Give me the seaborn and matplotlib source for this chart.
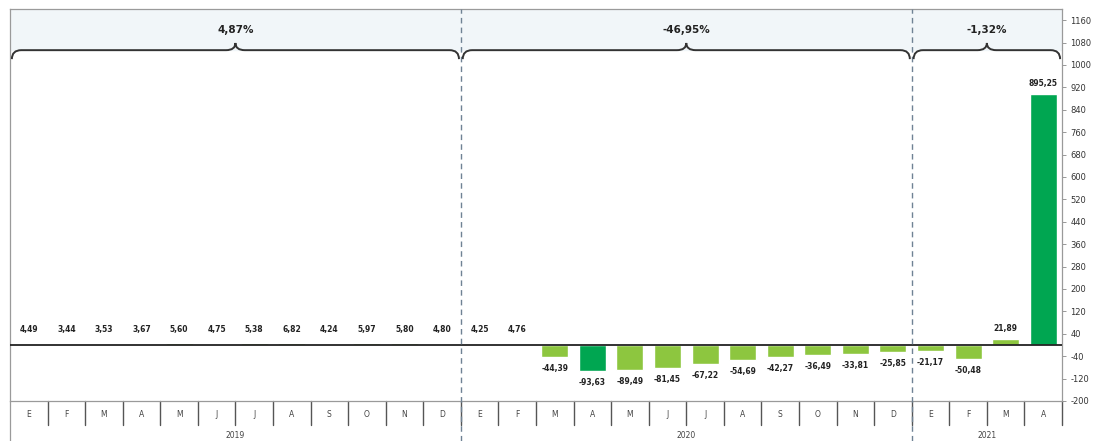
import numpy as np
import pandas as pd
import matplotlib
matplotlib.use("Agg")
import matplotlib.pyplot as plt
import matplotlib.transforms as mtransforms
from matplotlib.path import Path
from matplotlib.patches import PathPatch
import seaborn as sns

# -------------------------------------------
# data
# -------------------------------------------
months = ['E', 'F', 'M', 'A', 'M', 'J', 'J', 'A', 'S', 'O', 'N', 'D',
          'E', 'F', 'M', 'A', 'M', 'J', 'J', 'A', 'S', 'O', 'N', 'D',
          'E', 'F', 'M', 'A']
years = ['2019', '2020', '2021']
year_sizes = [12, 12, 4]
year_change = ['4,87%', '-46,95%', '-1,32%']
values = [4.49, 3.44, 3.53, 3.67, 5.60, 4.75, 5.38, 6.82, 4.24, 5.97, 5.80, 4.80,
          4.25, 4.76, -44.39, -93.63, -89.49, -81.45, -67.22, -54.69, -42.27, -36.49, -33.81, -25.85,
          -21.17, -50.48, 21.89, 895.25]
highlight = [False] * 15 + [True] + [False] * 11 + [True]

light_green = '#8DC63F'
dark_green = '#00A651'

df = pd.DataFrame({
    'pos': np.arange(len(values)),
    'value': values,
    'tone': np.where(highlight, 'dark', 'light'),
})

sns.set_style('white')
plt.rcParams['font.family'] = ['DejaVu Sans']

W, H = 1099, 441
fig = plt.figure(figsize=(W / 100, H / 100), dpi=100)
ax = fig.add_axes([10 / W, 40 / H, 1052 / W, 392 / H])

sns.barplot(data=df, x='pos', y='value', hue='tone', dodge=False, width=0.72,
            saturation=1, palette={'light': light_green, 'dark': dark_green},
            legend=False, ax=ax)

ymin, ymax = -200, 1200
ax.set_ylim(ymin, ymax)
ax.set_xlim(-0.5, len(values) - 0.5)

# right axis ticks
ax.yaxis.tick_right()
ax.set_yticks(np.arange(-200, 1161, 80))
ax.set_yticklabels([str(t) for t in np.arange(-200, 1161, 80)], fontsize=6, color='#333333')
ax.tick_params(axis='y', length=3, width=0.6, color='#888888', pad=3)
ax.set_xticks([])
ax.set_xlabel('')
ax.set_ylabel('')
for s in ['top', 'left', 'right', 'bottom']:
    ax.spines[s].set_color('#9a9a9a')
    ax.spines[s].set_linewidth(0.9)

# zero line
ax.axhline(0, color='#222222', lw=1.3, zorder=3)

# light band on top
ax.axhspan(1053, ymax, color='#F1F6F9', zorder=0)

# value labels
for i, v in enumerate(values):
    txt = f'{v:.2f}'.replace('.', ',')
    if v >= 0:
        ax.text(i, max(v, 0) + 38 if v > 10 else 55, txt, ha='center', va='center',
                fontsize=5.5, fontweight='bold', color='#222222')
    else:
        ax.text(i, v - 40, txt, ha='center', va='center',
                fontsize=5.5, fontweight='bold', color='#222222')

# year separators, braces, labels
trans = mtransforms.blended_transform_factory(ax.transData, ax.transAxes)
start = 0
for k, (yr, n, pct) in enumerate(zip(years, year_sizes, year_change)):
    x0 = start - 0.5
    x1 = start + n - 0.5
    xm = (x0 + x1) / 2
    if k > 0:
        ax.plot([x0, x0], [-0.102, 1.0], transform=trans, color='#6f8294',
                lw=1.0, ls=(0, (4, 3)), clip_on=False, zorder=4)
    # brace
    yb, h, d = 1053, 32, 0.25
    verts = [(x0 + 0.05, yb - h), (x0 + 0.05, yb), (x0 + d + 0.05, yb),
             (xm - d, yb), (xm, yb), (xm, yb + h * 0.8),
             (xm, yb), (xm + d, yb),
             (x1 - d - 0.05, yb), (x1 - 0.05, yb), (x1 - 0.05, yb - h)]
    codes = [Path.MOVETO, Path.CURVE3, Path.CURVE3,
             Path.LINETO, Path.CURVE3, Path.CURVE3,
             Path.CURVE3, Path.CURVE3,
             Path.LINETO, Path.CURVE3, Path.CURVE3]
    ax.add_patch(PathPatch(Path(verts, codes), fill=False, ec='#333333', lw=1.4, zorder=5))
    ax.text(xm, 1125, pct, ha='center', va='center', fontsize=7.5,
            fontweight='bold', color='#222222')
    # year label
    ax.text(xm, -0.087, yr, transform=trans, ha='center', va='center',
            fontsize=5.5, color='#444444', clip_on=False)
    start += n

# month boxes
for i, m in enumerate(months):
    ax.text(i, -0.034, m, transform=trans, ha='center', va='center',
            fontsize=5.5, color='#444444', clip_on=False)
    ax.plot([i + 0.5, i + 0.5], [-0.061, 0], transform=trans, color='#555555',
            lw=1.0, clip_on=False)
ax.plot([-0.5, -0.5], [-0.102, 0], transform=trans, color='#9a9a9a', lw=0.9, clip_on=False)

fig.savefig('out.png', dpi=100)
